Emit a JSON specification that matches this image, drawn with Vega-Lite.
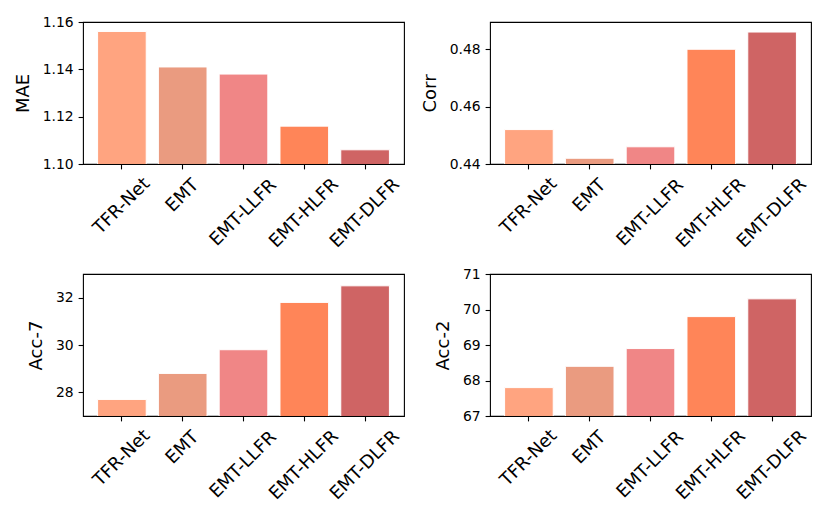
{
  "$schema": "https://vega.github.io/schema/vega-lite/v6.json",
  "padding": {"left": 13, "top": 14, "right": 5, "bottom": 5},
  "background": "white",
  "data": {
    "values": [
      {"metric": "MAE", "model": "TFR-Net", "value": 1.156},
      {"metric": "MAE", "model": "EMT", "value": 1.141},
      {"metric": "MAE", "model": "EMT-LLFR", "value": 1.138},
      {"metric": "MAE", "model": "EMT-HLFR", "value": 1.116},
      {"metric": "MAE", "model": "EMT-DLFR", "value": 1.106},
      {"metric": "Corr", "model": "TFR-Net", "value": 0.452},
      {"metric": "Corr", "model": "EMT", "value": 0.442},
      {"metric": "Corr", "model": "EMT-LLFR", "value": 0.446},
      {"metric": "Corr", "model": "EMT-HLFR", "value": 0.480},
      {"metric": "Corr", "model": "EMT-DLFR", "value": 0.486},
      {"metric": "Acc-7", "model": "TFR-Net", "value": 27.7},
      {"metric": "Acc-7", "model": "EMT", "value": 28.8},
      {"metric": "Acc-7", "model": "EMT-LLFR", "value": 29.8},
      {"metric": "Acc-7", "model": "EMT-HLFR", "value": 31.8},
      {"metric": "Acc-7", "model": "EMT-DLFR", "value": 32.5},
      {"metric": "Acc-2", "model": "TFR-Net", "value": 67.8},
      {"metric": "Acc-2", "model": "EMT", "value": 68.4},
      {"metric": "Acc-2", "model": "EMT-LLFR", "value": 68.9},
      {"metric": "Acc-2", "model": "EMT-HLFR", "value": 69.8},
      {"metric": "Acc-2", "model": "EMT-DLFR", "value": 70.3}
    ]
  },
  "columns": 2,
  "spacing": {"column": 86, "row": 110},
  "bounds": "flush",
  "concat": [
    {
      "width": 321,
      "height": 142,
      "transform": [{"filter": "datum.metric === 'MAE'"}],
      "mark": {"type": "bar", "opacity": 0.95, "stroke": "white", "strokeWidth": 1, "clip": true},
      "encoding": {
        "x": {"field": "model", "type": "nominal", "sort": null},
        "y": {
          "field": "value",
          "type": "quantitative",
          "title": "MAE",
          "scale": {"domain": [1.10, 1.16]},
          "axis": {"values": [1.10, 1.12, 1.14, 1.16], "format": ".2f"}
        },
        "color": {"field": "model", "type": "nominal", "sort": null, "legend": null}
      }
    },
    {
      "width": 321,
      "height": 142,
      "transform": [{"filter": "datum.metric === 'Corr'"}],
      "mark": {"type": "bar", "opacity": 0.95, "stroke": "white", "strokeWidth": 1, "clip": true},
      "encoding": {
        "x": {"field": "model", "type": "nominal", "sort": null},
        "y": {
          "field": "value",
          "type": "quantitative",
          "title": "Corr",
          "scale": {"domain": [0.44, 0.4895]},
          "axis": {"values": [0.44, 0.46, 0.48], "format": ".2f"}
        },
        "color": {"field": "model", "type": "nominal", "sort": null, "legend": null}
      }
    },
    {
      "width": 321,
      "height": 142,
      "transform": [{"filter": "datum.metric === 'Acc-7'"}],
      "mark": {"type": "bar", "opacity": 0.95, "stroke": "white", "strokeWidth": 1, "clip": true},
      "encoding": {
        "x": {"field": "model", "type": "nominal", "sort": null},
        "y": {
          "field": "value",
          "type": "quantitative",
          "title": "Acc-7",
          "scale": {"domain": [27, 33]},
          "axis": {"values": [28, 30, 32], "format": "d"}
        },
        "color": {"field": "model", "type": "nominal", "sort": null, "legend": null}
      }
    },
    {
      "width": 321,
      "height": 142,
      "transform": [{"filter": "datum.metric === 'Acc-2'"}],
      "mark": {"type": "bar", "opacity": 0.95, "stroke": "white", "strokeWidth": 1, "clip": true},
      "encoding": {
        "x": {"field": "model", "type": "nominal", "sort": null},
        "y": {
          "field": "value",
          "type": "quantitative",
          "title": "Acc-2",
          "scale": {"domain": [67, 71]},
          "axis": {"values": [67, 68, 69, 70, 71], "format": "d"}
        },
        "color": {"field": "model", "type": "nominal", "sort": null, "legend": null}
      }
    }
  ],
  "resolve": {"scale": {"y": "independent"}},
  "config": {
    "font": "DejaVu Sans",
    "view": {"stroke": "black", "strokeWidth": 1.1},
    "scale": {"bandPaddingInner": 0.2, "bandPaddingOuter": 0.24},
    "range": {"category": ["#FFA07A", "#E9967A", "#F08080", "#FF7F50", "#CD5C5C"]},
    "axis": {
      "grid": false,
      "domain": false,
      "tickColor": "black",
      "tickSize": 4.9,
      "tickWidth": 1.1,
      "labelColor": "black",
      "titleColor": "black",
      "titleFontWeight": "normal"
    },
    "axisY": {
      "labelFontSize": 13.9,
      "labelPadding": 4.9,
      "titleFontSize": 18,
      "titlePadding": 10
    },
    "axisX": {
      "title": null,
      "labelFontSize": 18,
      "labelAngle": -45,
      "labelAlign": "center",
      "labelBaseline": "middle",
      "labelLimit": 0,
      "labelPadding": {
        "condition": [
          {"test": "datum.value === 'TFR-Net'", "value": 37},
          {"test": "datum.value === 'EMT'", "value": 26.5},
          {"test": "datum.value === 'EMT-LLFR'", "value": 43.5}
        ],
        "value": 44
      }
    }
  }
}
